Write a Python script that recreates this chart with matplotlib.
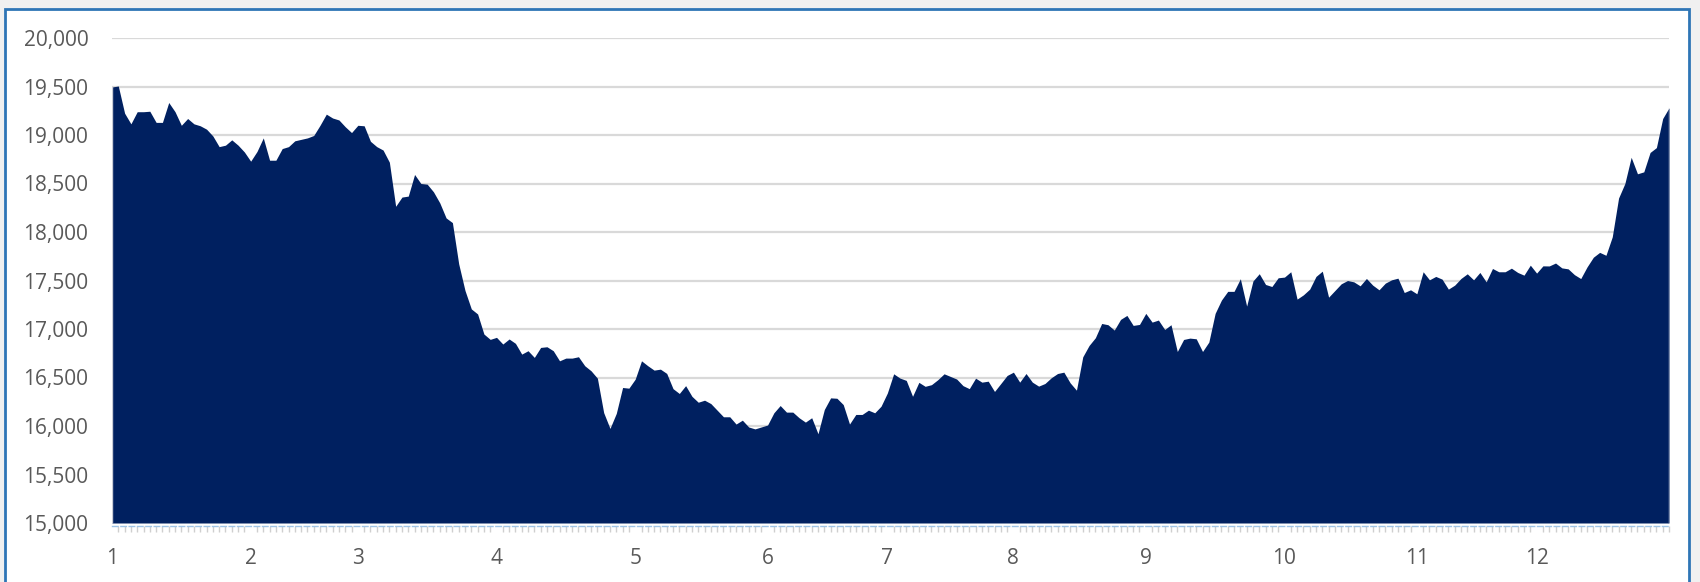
import matplotlib
matplotlib.use("Agg")
import matplotlib.pyplot as plt
from matplotlib.patches import Rectangle
import numpy as np

values = [
    19495, 19505, 19225, 19115, 19240, 19240, 19245, 19130, 19130, 19335,
    19240, 19100, 19170, 19115, 19095, 19060, 18990, 18880, 18895, 18950,
    18895, 18825, 18730, 18830, 18970, 18740, 18740, 18860, 18880, 18940,
    18955, 18970, 18995, 19100, 19215, 19175, 19155, 19085, 19025, 19100,
    19095, 18935, 18880, 18845, 18720, 18265, 18360, 18370, 18593, 18500,
    18493, 18414, 18300, 18145, 18097, 17672, 17397, 17207, 17155, 16948,
    16893, 16914, 16845, 16897, 16852, 16741, 16776, 16707, 16810, 16817,
    16776, 16672, 16700, 16700, 16714, 16621, 16569, 16493, 16138, 15975,
    16130, 16397, 16390, 16483, 16672, 16621, 16576, 16586, 16542, 16385,
    16335, 16416, 16306, 16245, 16266, 16231, 16163, 16095, 16095, 16020,
    16060, 15990, 15970, 15990, 16010, 16136, 16211, 16143, 16143, 16085,
    16040, 16085, 15920, 16170, 16290, 16286, 16221, 16020, 16119, 16119,
    16163, 16136, 16204, 16340, 16538, 16494, 16470, 16306, 16450, 16409,
    16426, 16477, 16538, 16511, 16484, 16416, 16385, 16493, 16452, 16462,
    16356, 16438, 16521, 16555, 16452, 16541, 16452, 16411, 16438, 16497,
    16541, 16555, 16445, 16369, 16713, 16830, 16910, 17057, 17044, 16989,
    17099, 17140, 17037, 17047, 17161, 17071, 17092, 16995, 17044, 16768,
    16892, 16906, 16899, 16768, 16865, 17161, 17298, 17388, 17388, 17518,
    17236, 17495, 17570, 17459, 17438, 17528, 17535, 17590, 17308, 17352,
    17411, 17542, 17596, 17328, 17397, 17466, 17500, 17486, 17445, 17521,
    17452, 17404, 17473, 17507, 17524, 17376, 17404, 17363, 17590, 17507,
    17542, 17514, 17411, 17452, 17521, 17569, 17507, 17583, 17486, 17624,
    17590, 17590, 17627, 17583, 17555, 17658, 17576, 17651, 17650, 17680,
    17630, 17620, 17560, 17520, 17640, 17740, 17790, 17760, 17950, 18350,
    18500, 18770, 18600, 18620, 18820, 18870, 19170, 19280,
]
month_labels = ['1', '2', '3', '4', '5', '6', '7', '8', '9', '10', '11', '12']
month_start = [0, 22, 39, 61, 83, 104, 123, 143, 164, 186, 207, 226]
y_ticks = [15000, 15500, 16000, 16500, 17000, 17500, 18000, 18500, 19000, 19500, 20000]

W, H = 1700, 582
fig = plt.figure(figsize=(W / 100, H / 100), dpi=100)
fig.patch.set_facecolor('#f0f0f0')
# chart frame (selected chart border)
frame = Rectangle((5 / W, -20 / H), (1689 - 5) / W, (573 + 20) / H,
                  transform=fig.transFigure, facecolor='white',
                  edgecolor='#2e75b6', linewidth=2, zorder=-10)
fig.patches.append(frame)

ax = fig.add_axes([112 / W, 59 / H, (1669 - 112) / W, (544 - 59) / H])
ax.set_facecolor('none')
ax.set_zorder(1)

x = np.arange(len(values))
ax.fill_between(x, values, y_ticks[0], color='#002060', linewidth=0, zorder=2)
ax.plot([x[0], x[0]], [y_ticks[0], values[0]], color='#c9ccd6', lw=1, zorder=3)
ax.plot([x[-1], x[-1]], [y_ticks[0], values[-1]], color='#c9ccd6', lw=1, zorder=3)

ax.set_xlim(x[0], x[-1])
ax.set_ylim(y_ticks[0], y_ticks[-1])
ax.set_yticks(y_ticks)
ax.set_yticklabels([f'{v:,}' for v in y_ticks])
ax.yaxis.grid(True, color='#d9d9d9', linewidth=1.6, zorder=1)
ax.set_axisbelow(True)

ax.set_xticks(month_start)
ax.set_xticklabels(month_labels)
ax.set_xticks(x, minor=True)

for s in ['top', 'right', 'left']:
    ax.spines[s].set_visible(False)
ax.spines['bottom'].set_position(('outward', 2))
ax.spines['bottom'].set_color('#9dc3e6')
ax.spines['bottom'].set_linestyle((0, (4, 2)))
ax.spines['bottom'].set_linewidth(1.0)

font = 'Open Sans'
ax.tick_params(axis='y', length=0, pad=17, labelsize=15, labelcolor='#595959')
ax.tick_params(axis='x', which='major', length=0, pad=16, labelsize=15, labelcolor='#595959')
ax.tick_params(axis='x', which='minor', length=4, width=1, color='#cfcfcf', direction='out')
for lab in ax.get_xticklabels() + ax.get_yticklabels():
    lab.set_fontfamily(font)

fig.savefig('out.png', dpi=100, facecolor=fig.get_facecolor())
